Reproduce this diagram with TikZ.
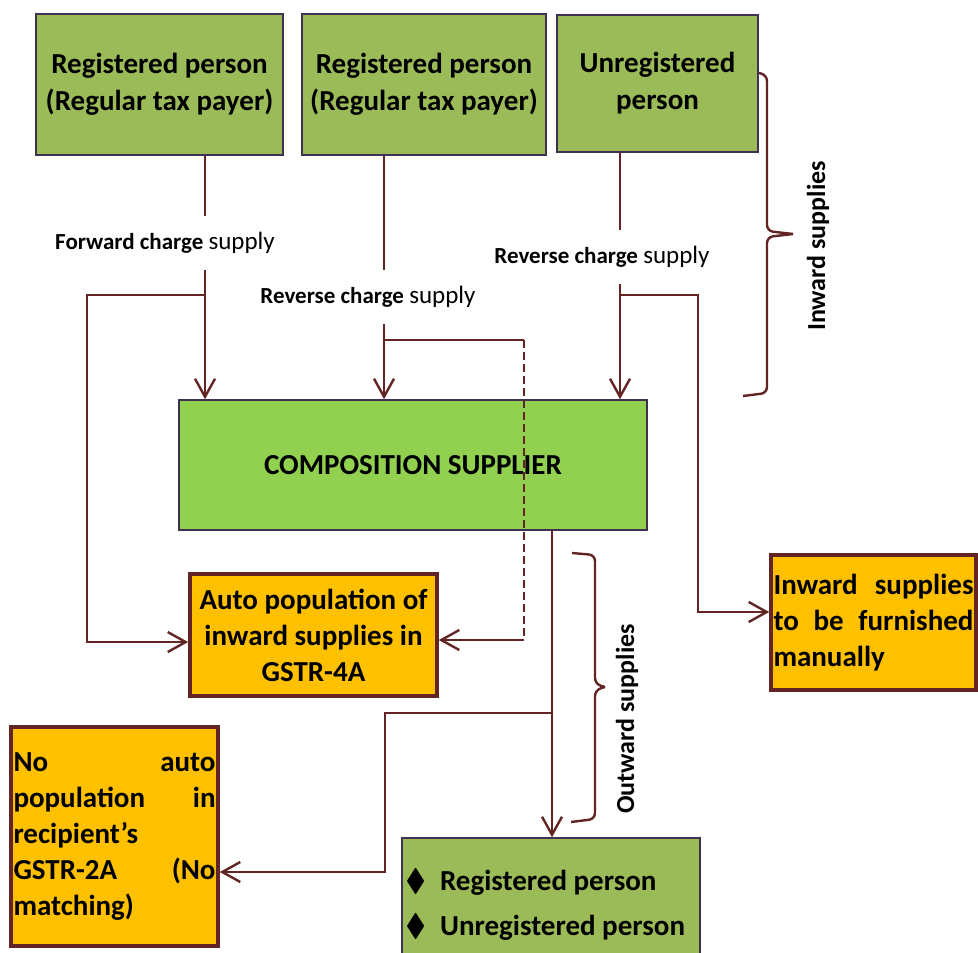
\documentclass[tikz,border=0pt]{standalone}
\usepackage{amssymb}
\usepackage{fontspec}
\setmainfont{Carlito}
\usetikzlibrary{arrows.meta,calc}
\definecolor{boxgreen}{HTML}{9BBB59}
\definecolor{compgreen}{HTML}{92D050}
\definecolor{boxorange}{HTML}{FFC000}
\definecolor{linebrown}{HTML}{632523}
\definecolor{boxedge}{HTML}{403152}

\begin{document}
\begin{tikzpicture}[x=0.5pt,y=-0.5pt,>={Straight Barb[length=9pt,width=10pt]},
person/.style={draw=boxedge,line width=0.8pt,fill=boxgreen,align=center,font=\fontsize{14.5}{18.5}\selectfont\bfseries},
result/.style={draw=linebrown,line width=1.8pt,fill=boxorange,font=\fontsize{14.5}{18}\selectfont\bfseries},
flow/.style={linebrown,line width=1.2pt},
charge/.style={fill=white,inner ysep=8pt,font=\fontsize{11.5}{14}\selectfont},
side/.style={rotate=90,font=\fontsize{13}{15}\selectfont\bfseries},
curly/.style={flow,rounded corners=3pt},
bullet/.style={anchor=west,inner sep=0pt,font=\fontsize{14.5}{18}\selectfont\bfseries}]
\useasboundingbox (0,0) rectangle (978,952);
\clip (0,0) rectangle (978,952);

\node[person,minimum width=123.5pt,minimum height=70.5pt] (rega) at (159.5,84.5) {Registered person\\(Regular tax payer)};
\node[person,minimum width=122pt,minimum height=70.5pt] (regb) at (424,84.5) {Registered person\\(Regular tax payer)};
\node[person,minimum width=100.5pt,minimum height=68.5pt] (unreg) at (657.5,83.5) {Unregistered\\person};
\node[person,fill=compgreen,minimum width=234pt,minimum height=65pt] (comp) at (413,465) {COMPOSITION SUPPLIER};
\node[result,align=center,minimum width=123.5pt,minimum height=61pt] (auto) at (313.5,635) {Auto population of\\inward supplies in\\GSTR-4A};
\node[result,align=left,text width=100pt,inner xsep=1.25pt,minimum height=67.5pt] (manual) at (873.5,622.5) {Inward\hfill supplies\\to\hfill be\hfill furnished\\manually};
\node[result,align=left,text width=101pt,inner xsep=1.25pt,minimum height=109.5pt] (noauto) at (114.5,836.5) {No\hfill auto\\population\hfill in\\recipient’s\\GSTR-2A\hfill (No\\matching)};
\node[person,minimum width=149pt,minimum height=71pt] (outbox) at (551,909) {};
\node[bullet] (outone) at (405,882) {{\fontsize{15.5}{15}\selectfont$\blacklozenge$}\hspace{7pt}Registered person};
\node[bullet] (outtwo) at (405,927) {{\fontsize{15.5}{15}\selectfont$\blacklozenge$}\hspace{7pt}Unregistered person};

\coordinate (ja) at (205,295);
\coordinate (jb) at (384,340);
\coordinate (jc) at (620,295);
\coordinate (jo) at (552,713);

\draw[flow,->] (rega.south -| ja) -- (comp.north -| ja);
\draw[flow,->] (ja) -- ++(-118,0) |- ($(auto.west)+(0,7)$);
\draw[flow,->] (regb.south -| jb) -- (comp.north -| jb);
\draw[flow] (jb) -- ++(140,0) coordinate (db);
\draw[flow,dash pattern=on 4pt off 2pt] (db) -- ++(0,300) coordinate (eb);
\draw[flow,->] (eb) -- (auto.east |- eb);
\draw[flow,->] (unreg.south -| jc) -- (comp.north -| jc);
\draw[flow,->] (jc) -- ++(78,0) |- ($(manual.west)+(0,-10.5)$);
\draw[flow,->] (comp.south -| jo) -- (outbox.north -| jo);
\draw[flow,->] (jo) -- ++(-167,0) |- ($(noauto.east)+(0,35.5)$);

\node[charge] (fwd) at (165,243) {\textbf{Forward charge} {\fontsize{12.5}{14}\selectfont supply}};
\node[charge] (revb) at (368,297) {\textbf{Reverse charge} {\fontsize{12.5}{14}\selectfont supply}};
\node[charge] (revc) at (602,257) {\textbf{Reverse charge} {\fontsize{12.5}{14}\selectfont supply}};

\draw[curly] (unreg.east |- 0,73) -- (767,75) -- (767,231) -- (793,234);
\draw[curly] (793,234) -- (767,237) -- (767,393) -- (743,396);
\node[side] (inlab) at (818,246) {Inward supplies};
\draw[curly] (572,553) -- (595,555) -- (595,684) -- (605,687);
\draw[curly] (605,687) -- (595,690) -- (595,819) -- (571,822);
\node[side] (outlab) at (627,719) {Outward supplies};
\end{tikzpicture}
\end{document}
